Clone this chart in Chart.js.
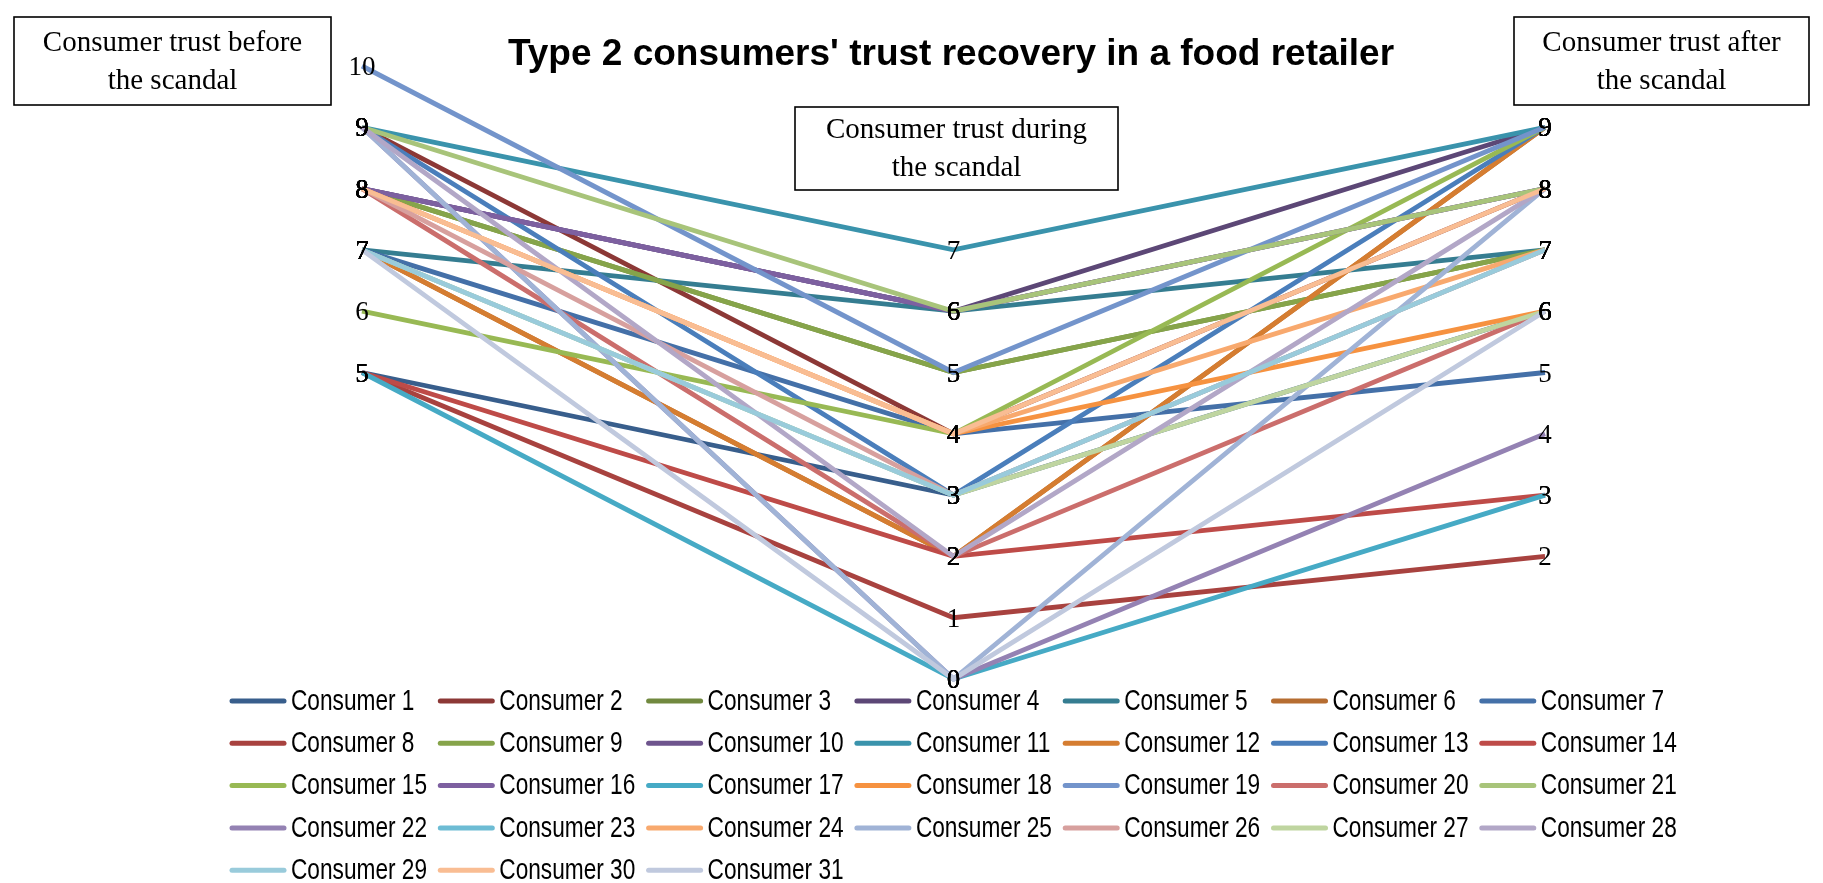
<!DOCTYPE html>
<html>
<head>
<meta charset="utf-8">
<script src="https://cdn.jsdelivr.net/npm/chart.js@4.4.1/dist/chart.umd.min.js"></script>
<style>
html,body{margin:0;padding:0;background:#fff;}
#wrap{position:relative;width:1823px;height:883px;}
</style>
</head>
<body>
<div id="wrap"><canvas id="c"></canvas></div>
<script>
const stages = ['Consumer trust before the scandal', 'Consumer trust during the scandal', 'Consumer trust after the scandal'];
const consumers = Array.from({length: 31}, (_, i) => 'Consumer ' + (i + 1));
const trustBefore = [5, 9, 8, 8, 7, 7, 7, 5, 8, 8, 9, 7, 9, 5, 6, 8, 5, 8, 10, 8, 9, 9, 7, 8, 9, 8, 7, 9, 7, 8, 7];
const trustDuring = [3, 4, 5, 6, 6, 2, 4, 1, 5, 6, 7, 2, 3, 2, 4, 6, 0, 4, 5, 2, 6, 0, 3, 4, 0, 3, 3, 2, 3, 4, 0];
const trustAfter  = [6, 8, 7, 9, 7, 9, 5, 2, 7, 8, 9, 9, 9, 3, 9, 8, 3, 6, 9, 6, 8, 4, 7, 7, 8, 7, 6, 8, 7, 8, 6];
const seriesColors = ['#385E8C', '#8C3836', '#71893F', '#5C4776', '#357D91', '#B66D31', '#4470A8', '#A8423F',
  '#86A44A', '#6E548D', '#3A93AC', '#D57D31', '#4A7EBB', '#BE4B48', '#98B954', '#7D60A0', '#46AAC5', '#F69240',
  '#7394CB', '#CB6E6C', '#A8C47A', '#9482B3', '#6DBCD4', '#F8A96E', '#A0B3D6', '#D7A09E', '#BFD5A0', '#B2A7C7',
  '#99CBDB', '#F9BD93', '#C0C9DE'];
const chartTitle = "Type 2 consumers' trust recovery in a food retailer";
const boxTexts = [['Consumer trust before', 'the scandal'], ['Consumer trust during', 'the scandal'], ['Consumer trust after', 'the scandal']];

const N = consumers.length;
const datasets = consumers.map((name, i) => ({
  label: name,
  data: [trustBefore[i], trustDuring[i], trustAfter[i]],
  borderColor: seriesColors[i],
  backgroundColor: seriesColors[i],
  borderWidth: 4.8,
  pointRadius: 0,
  pointHoverRadius: 0,
  tension: 0,
  fill: false,
  clip: false,
  order: N - i
}));

const decorPlugin = {
  id: 'decor',
  afterDatasetsDraw(chart) {
    const ctx = chart.ctx;
    ctx.save();
    // data labels
    ctx.fillStyle = '#000';
    ctx.font = '27px "Liberation Serif", "Times New Roman", serif';
    ctx.textAlign = 'center';
    ctx.textBaseline = 'middle';
    chart.data.datasets.forEach((ds, di) => {
      const meta = chart.getDatasetMeta(di);
      meta.data.forEach((pt, j) => {
        ctx.fillText(String(ds.data[j]), pt.x, pt.y + 2);
      });
    });
    // title
    ctx.font = 'bold 37px "Liberation Sans", Arial, sans-serif';
    ctx.fillText(chartTitle, 951, 55);
    // text boxes
    const boxes = [[14, 17, 317, 88], [795, 107, 323, 83], [1514, 17, 295, 88]];
    ctx.font = '29px "Liberation Serif", "Times New Roman", serif';
    ctx.lineWidth = 1.6;
    ctx.strokeStyle = '#000';
    boxes.forEach((b, k) => {
      ctx.strokeRect(b[0], b[1], b[2], b[3]);
      const cx = b[0] + b[2] / 2;
      const cy = b[1] + b[3] / 2;
      ctx.fillText(boxTexts[k][0], cx, cy - 18);
      ctx.fillText(boxTexts[k][1], cx, cy + 20);
    });
    // legend
    ctx.textAlign = 'left';
    ctx.font = '22px "Liberation Sans", Arial, sans-serif';
    ctx.lineCap = 'round';
    chart.data.datasets.forEach((ds, i) => {
      const col = i % 7, row = Math.floor(i / 7);
      const x = 232 + col * 208.3;
      const y = 701 + row * 42.3;
      ctx.strokeStyle = ds.borderColor;
      ctx.lineWidth = 5;
      ctx.beginPath();
      ctx.moveTo(x, y);
      ctx.lineTo(x + 52, y);
      ctx.stroke();
      ctx.fillStyle = '#000';
      ctx.save();
      ctx.translate(x + 59, y + 1);
      ctx.scale(1.03, 1.3);
      ctx.fillText(ds.label, 0, 0);
      ctx.restore();
    });
    ctx.restore();
  }
};

new Chart(document.getElementById('c'), {
  type: 'line',
  data: { labels: stages, datasets },
  options: {
    responsive: true,
    maintainAspectRatio: false,
    animation: false,
    events: [],
    layout: { padding: { left: 362, right: 278, top: 66, bottom: 204 } },
    scales: {
      x: { display: false, offset: false },
      y: { display: false, min: 0, max: 10 }
    },
    plugins: {
      legend: { display: false },
      title: { display: false },
      tooltip: { enabled: false }
    }
  },
  plugins: [decorPlugin]
});
</script>
</body>
</html>
